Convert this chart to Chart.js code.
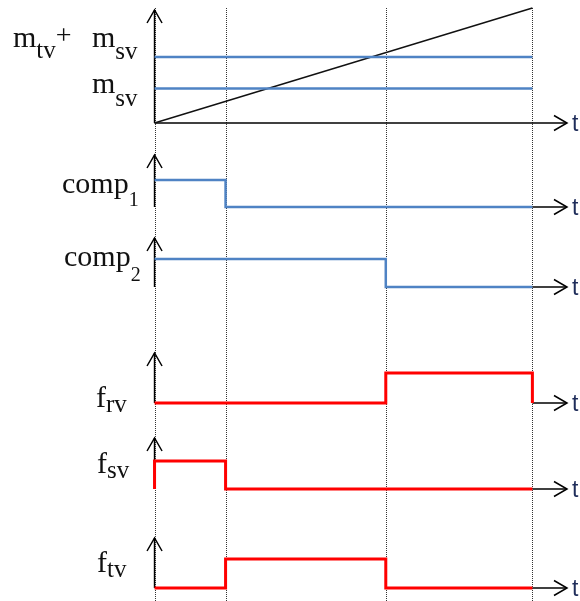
<!DOCTYPE html>
<html>
<head>
<meta charset="utf-8">
<script src="https://cdn.jsdelivr.net/npm/chart.js@4.4.1/dist/chart.umd.min.js"></script>
<style>
  html, body { margin: 0; padding: 0; background: #fff; }
  #wrap { position: relative; width: 580px; height: 601px; }
</style>
</head>
<body>
<div id="wrap"><canvas id="timing"></canvas></div>
<script>
// switching instants t0..t3
const switchT = [0, 1.88, 6.12, 10];
// triangular carrier m_tv (rising edge)
const rampT = [0, 10];
const rampM = [0, 1];
// modulation thresholds
const mSv = 0.3;
const mTvSv = 0.574;
// logic level held from each switching instant until the next one
const comp1 = [1, 0, 0];
const comp2 = [1, 1, 0];
const fRv = [0, 0, 1];
const fSv = [1, 0, 0];
const fTv = [0, 1, 0];

const BLUE = '#4F83C4';
const RED = '#FF0000';
const H = 601;

// vertical layout of each trace: baseline pixel, pixels per unit, axis height
const PANELS = {
  yTop: { base: 123, unit: 115, tip: 113, full: true },
  yC1:  { base: 207, unit: 27, tip: 52 },
  yC2:  { base: 287, unit: 28, tip: 49 },
  yRv:  { base: 403, unit: 30, tip: 50 },
  ySv:  { base: 489, unit: 28, tip: 51 },
  yTv:  { base: 588, unit: 29, tip: 50 }
};

// text runs: [text, size, dy from the label baseline]
const LABELS = [
  { x: 13, y: 47, runs: [['m', 30, 0], ['tv', 25, 11], ['+', 28, -3]] },
  { x: 92, y: 47, runs: [['m', 30, 0], ['sv', 25, 12]] },
  { x: 92, y: 93, runs: [['m', 30, 0], ['sv', 25, 13]] },
  { x: 62, y: 193, runs: [['comp', 30, 0], ['1', 20, 13]] },
  { x: 64, y: 266, runs: [['comp', 30, 0], ['2', 20, 15]] },
  { x: 96, y: 407, runs: [['f', 30, 0], ['rv', 25, 5]] },
  { x: 97, y: 473, runs: [['f', 30, 0], ['sv', 25, 5]] },
  { x: 97, y: 572, runs: [['f', 30, 0], ['tv', 25, 5]] }
];

function stepPoints(levels, fromZero) {
  const pts = [];
  if (fromZero) pts.push({ x: switchT[0], y: 0 });
  levels.forEach((l, i) => pts.push({ x: switchT[i], y: l }));
  const last = switchT[switchT.length - 1];
  pts.push({ x: last, y: fromZero ? 0 : levels[levels.length - 1] });
  return pts;
}

// constant threshold across the whole period
function flat(value) {
  return [switchT[0], switchT[switchT.length - 1]].map(t => ({ x: t, y: value }));
}

function level(yAxisID, color, width, data, stepped) {
  return {
    data, yAxisID, borderColor: color, borderWidth: width,
    stepped: stepped ? 'before' : false,
    pointRadius: 0, fill: false, tension: 0
  };
}

const scales = {
  x: { type: 'linear', display: false, min: -4.09, max: 11.26 }
};
Object.entries(PANELS).forEach(([id, p]) => {
  scales[id] = { type: 'linear', display: false, min: -(H - p.base) / p.unit, max: p.base / p.unit };
});

function chevron(ctx, x, y, dx, dy) {
  const back = 13, half = 7.5;
  ctx.beginPath();
  ctx.moveTo(x - dx * back - dy * half, y - dy * back + dx * half);
  ctx.lineTo(x, y);
  ctx.lineTo(x - dx * back + dy * half, y - dy * back - dx * half);
  ctx.stroke();
}

const axesPlugin = {
  id: 'timingAxes',
  beforeDatasetsDraw(chart) {
    const ctx = chart.ctx;
    const xs = chart.scales.x;
    const tEnd = switchT[switchT.length - 1];
    const xArrow = 567;
    ctx.save();

    // dotted guides at the switching instants
    const yTopGuide = chart.scales.yTop.getPixelForValue(rampM[rampM.length - 1]);
    ctx.strokeStyle = '#333';
    ctx.lineWidth = 1;
    ctx.setLineDash([1, 1]);
    switchT.forEach(t => {
      const x = Math.round(xs.getPixelForValue(t)) + 0.5;
      ctx.beginPath();
      ctx.moveTo(x, yTopGuide);
      ctx.lineTo(x, H);
      ctx.stroke();
    });
    ctx.setLineDash([]);

    // axes with open arrow heads
    ctx.strokeStyle = '#000';
    ctx.lineWidth = 1.5;
    const x0 = xs.getPixelForValue(switchT[0]);
    Object.entries(PANELS).forEach(([id, p]) => {
      const yb = chart.scales[id].getPixelForValue(0);
      ctx.beginPath();
      ctx.moveTo(x0, yb);
      ctx.lineTo(x0, yb - p.tip);
      ctx.stroke();
      chevron(ctx, x0, yb - p.tip, 0, -1);

      const xStart = p.full ? x0 : xs.getPixelForValue(tEnd);
      ctx.beginPath();
      ctx.moveTo(xStart, yb);
      ctx.lineTo(xArrow, yb);
      ctx.stroke();
      chevron(ctx, xArrow, yb, 1, 0);
    });
    ctx.restore();
  },
  afterDatasetsDraw(chart) {
    const ctx = chart.ctx;
    ctx.save();
    ctx.textBaseline = 'alphabetic';
    ctx.fillStyle = '#111';
    LABELS.forEach(lab => {
      let x = lab.x;
      lab.runs.forEach(([txt, size, dy]) => {
        ctx.font = size + 'px "Liberation Serif", "Times New Roman", serif';
        ctx.fillText(txt, x, lab.y + dy);
        x += ctx.measureText(txt).width;
      });
    });
    // time axis names
    ctx.fillStyle = '#1F2D5A';
    ctx.font = '23px "Liberation Sans", Arial, sans-serif';
    Object.keys(PANELS).forEach(id => {
      const yb = chart.scales[id].getPixelForValue(0);
      ctx.fillText('t', 572, yb + 8);
    });
    ctx.restore();
  }
};

new Chart(document.getElementById('timing'), {
  type: 'line',
  data: {
    datasets: [
      level('yTop', BLUE, 2.5, flat(mTvSv), false),
      level('yTop', BLUE, 2.5, flat(mSv), false),
      level('yTop', '#111', 1.4, rampT.map((t, i) => ({ x: t, y: rampM[i] })), false),
      level('yC1', BLUE, 2.5, stepPoints(comp1, false), true),
      level('yC2', BLUE, 2.5, stepPoints(comp2, false), true),
      level('yRv', RED, 3, stepPoints(fRv, true), true),
      level('ySv', RED, 3, stepPoints(fSv, true), true),
      level('yTv', RED, 3, stepPoints(fTv, true), true)
    ]
  },
  options: {
    responsive: true,
    maintainAspectRatio: false,
    animation: false,
    events: [],
    layout: { padding: 0 },
    plugins: { legend: { display: false }, tooltip: { enabled: false } },
    scales
  },
  plugins: [axesPlugin]
});
</script>
</body>
</html>
